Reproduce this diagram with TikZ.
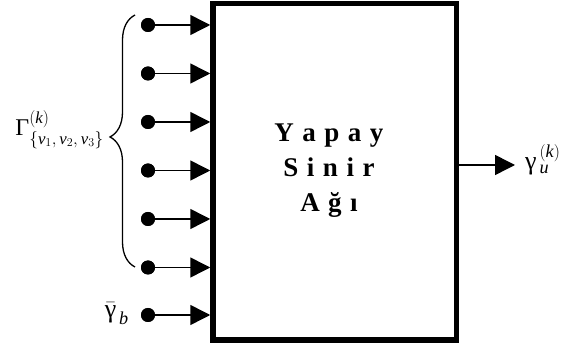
\documentclass[tikz,border=0pt]{standalone}
\usepackage{amsmath}
\usepackage{fontspec}
\setmainfont{Liberation Serif}
\usetikzlibrary{arrows.meta,decorations.pathreplacing}
\newcommand{\lsp}{\hspace{8.5pt}}
\begin{document}
\begin{tikzpicture}[x=1pt,y=-1pt,
  inarrow/.style={line width=1.5pt,-{Triangle[length=20pt,width=20pt]}},
  dotnode/.style={circle,fill,inner sep=0pt,minimum size=14pt},
  lbl/.style={inner sep=0pt,font=\fontsize{26}{30}\selectfont}]
\useasboundingbox (0,0) rectangle (576,344);
\node[draw,line width=5.5pt,minimum width=243.5pt,minimum height=336.7pt,inner sep=0pt] (box) at (334.75,171.65) {};
\node[inner sep=0pt,align=center,font=\bfseries\fontsize{27}{35}\selectfont] (txt) at (329,171)
  {Y\lsp a\lsp p\lsp a\lsp y\\S\lsp i\lsp n\lsp i\lsp r\\A\lsp ğ\lsp ı};
\foreach \i/\yy in {1/25,2/73.5,3/122,4/170.5,5/219,6/267.5,7/315}{
  \node[dotnode] (d\i) at (148,\yy) {};
  \draw[inarrow] (d\i.center) -- (d\i.center -| box.west);
  \node[dotnode] at (d\i) {};
}
\coordinate (out) at (515,165);
\draw[inarrow] (box.east |- out) -- (out);
\node[lbl,anchor=base west] (yout) at (525,170) {$\text{γ}_{\,\textit{u}}^{\,(\textit{k})}$};
\node[lbl,anchor=base east] (gin) at (129,318) {$\bar{\text{γ}}_{\,\textit{b}}$};
\draw[line width=1.3pt,decorate,decoration={brace,amplitude=25pt,aspect=0.516}] (135,267) -- (135,15);
\node[lbl,anchor=base east,font=\fontsize{24}{28}\selectfont] (gam) at (104,136) {$\text{Γ}^{(\textit{k})}_{\{\textit{v}_1,\,\textit{v}_2,\,\textit{v}_3\}}$};
\end{tikzpicture}
\end{document}
